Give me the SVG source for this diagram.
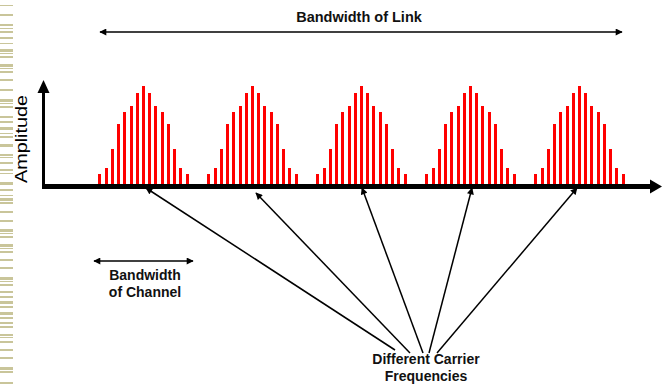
<svg xmlns="http://www.w3.org/2000/svg" width="662" height="386" viewBox="0 0 662 386">
<style>
.stripe{fill:#c9c59a}
.bar{fill:#ff0000}
.lbl{font-family:"Liberation Sans",Arial,sans-serif;font-weight:bold;font-size:14.5px;fill:#111;text-anchor:middle}
.sm{font-size:14px}
.amp{font-family:"Liberation Sans",Arial,sans-serif;font-size:16px;fill:#000;text-anchor:middle}
.thin{stroke:#000;stroke-width:1.5;fill:none}
</style>
<defs>
<marker id="ah" viewBox="0 0 10 10" refX="9" refY="5" markerWidth="8" markerHeight="7" markerUnits="userSpaceOnUse" orient="auto-start-reverse">
<path d="M0,0 L10,5 L0,10 z" fill="#000"/>
</marker>
<g id="cluster">
<rect class="bar" x="0" y="174" width="3" height="12"/>
<rect class="bar" x="7" y="168" width="3" height="18"/>
<rect class="bar" x="13" y="149" width="3" height="37"/>
<rect class="bar" x="19" y="124" width="3" height="62"/>
<rect class="bar" x="25" y="112" width="3" height="74"/>
<rect class="bar" x="32" y="106" width="3" height="80"/>
<rect class="bar" x="38" y="93" width="3" height="93"/>
<rect class="bar" x="44" y="86" width="3" height="100"/>
<rect class="bar" x="50" y="93" width="3" height="93"/>
<rect class="bar" x="56" y="106" width="3" height="80"/>
<rect class="bar" x="63" y="112" width="3" height="74"/>
<rect class="bar" x="69" y="124" width="3" height="62"/>
<rect class="bar" x="75" y="149" width="3" height="37"/>
<rect class="bar" x="81" y="168" width="3" height="18"/>
<rect class="bar" x="88" y="174" width="3" height="12"/>
</g>
</defs>
<rect width="662" height="386" fill="#fff"/>
<g id="border">
<rect class="stripe" x="0" y="5" width="13" height="1"/>
<rect class="stripe" x="0" y="14" width="13" height="2"/>
<rect class="stripe" x="0" y="24" width="13" height="2"/>
<rect class="stripe" x="0" y="28" width="13" height="1"/>
<rect class="stripe" x="0" y="31" width="13" height="2"/>
<rect class="stripe" x="0" y="37" width="13" height="2"/>
<rect class="stripe" x="0" y="43" width="13" height="1"/>
<rect class="stripe" x="0" y="49" width="13" height="3"/>
<rect class="stripe" x="0" y="53" width="13" height="1"/>
<rect class="stripe" x="0" y="56" width="13" height="2"/>
<rect class="stripe" x="0" y="64" width="13" height="3"/>
<rect class="stripe" x="0" y="68" width="13" height="1"/>
<rect class="stripe" x="0" y="71" width="13" height="2"/>
<rect class="stripe" x="0" y="79" width="13" height="2"/>
<rect class="stripe" x="0" y="89" width="13" height="2"/>
<rect class="stripe" x="0" y="99" width="13" height="3"/>
<rect class="stripe" x="0" y="103" width="13" height="1"/>
<rect class="stripe" x="0" y="106" width="13" height="2"/>
<rect class="stripe" x="0" y="116" width="13" height="2"/>
<rect class="stripe" x="0" y="121" width="13" height="2"/>
<rect class="stripe" x="0" y="127" width="13" height="3"/>
<rect class="stripe" x="0" y="133" width="13" height="1"/>
<rect class="stripe" x="0" y="136" width="13" height="2"/>
<rect class="stripe" x="0" y="144" width="13" height="3"/>
<rect class="stripe" x="0" y="154" width="13" height="2"/>
<rect class="stripe" x="0" y="157" width="13" height="1"/>
<rect class="stripe" x="0" y="162" width="13" height="2"/>
<rect class="stripe" x="0" y="169" width="13" height="2"/>
<rect class="stripe" x="0" y="173" width="13" height="1"/>
<rect class="stripe" x="0" y="182" width="13" height="3"/>
<rect class="stripe" x="0" y="189" width="13" height="2"/>
<rect class="stripe" x="0" y="195" width="13" height="1"/>
<rect class="stripe" x="0" y="198" width="13" height="3"/>
<rect class="stripe" x="0" y="202" width="13" height="2"/>
<rect class="stripe" x="0" y="211" width="13" height="2"/>
<rect class="stripe" x="0" y="220" width="13" height="2"/>
<rect class="stripe" x="0" y="229" width="13" height="3"/>
<rect class="stripe" x="0" y="233" width="13" height="1"/>
<rect class="stripe" x="0" y="236" width="13" height="2"/>
<rect class="stripe" x="0" y="244" width="13" height="3"/>
<rect class="stripe" x="0" y="248" width="13" height="1"/>
<rect class="stripe" x="0" y="251" width="13" height="2"/>
<rect class="stripe" x="0" y="259" width="13" height="2"/>
<rect class="stripe" x="0" y="267" width="13" height="2"/>
<rect class="stripe" x="0" y="277" width="13" height="3"/>
<rect class="stripe" x="0" y="281" width="13" height="1"/>
<rect class="stripe" x="0" y="284" width="13" height="2"/>
<rect class="stripe" x="0" y="291" width="13" height="2"/>
<rect class="stripe" x="0" y="296" width="13" height="2"/>
<rect class="stripe" x="0" y="301" width="13" height="3"/>
<rect class="stripe" x="0" y="306" width="13" height="2"/>
<rect class="stripe" x="0" y="312" width="13" height="3"/>
<rect class="stripe" x="0" y="317" width="13" height="2"/>
<rect class="stripe" x="0" y="322" width="13" height="2"/>
<rect class="stripe" x="0" y="326" width="13" height="2"/>
<rect class="stripe" x="0" y="334" width="13" height="2"/>
<rect class="stripe" x="0" y="337" width="13" height="1"/>
<rect class="stripe" x="0" y="341" width="13" height="2"/>
<rect class="stripe" x="0" y="349" width="13" height="2"/>
<rect class="stripe" x="0" y="357" width="13" height="2"/>
<rect class="stripe" x="0" y="367" width="13" height="3"/>
<rect class="stripe" x="0" y="371" width="13" height="2"/>
<rect class="stripe" x="0" y="382" width="13" height="2"/>
</g>
<g id="spectrum">
<use href="#cluster" x="98"/>
<use href="#cluster" x="207"/>
<use href="#cluster" x="316"/>
<use href="#cluster" x="425"/>
<use href="#cluster" x="534"/>
</g>
<g id="axes">
<rect x="42" y="90" width="3" height="99" fill="#000"/>
<path d="M37.5,93 L43.5,80 L49.5,93 z" fill="#000"/>
<rect x="42" y="184" width="612" height="5" fill="#000"/>
<path d="M650,179.5 L662,186.5 L650,193.5 z" fill="#000"/>
</g>
<g id="amplitude-label">
<text class="amp" transform="translate(27,139) rotate(-90)" textLength="88" lengthAdjust="spacingAndGlyphs">Amplitude</text>
</g>
<g id="link-label">
<text class="lbl" x="359" y="22">Bandwidth of Link</text>
</g>
<g id="channel-label">
<text class="lbl sm" x="145" y="280">Bandwidth</text>
<text class="lbl sm" x="145" y="297">of Channel</text>
</g>
<g id="carrier-label">
<text class="lbl sm" x="426" y="364">Different Carrier</text>
<text class="lbl sm" x="426" y="381">Frequencies</text>
</g>
<g id="connectors">
<line class="thin" x1="100" y1="32" x2="622" y2="32" marker-start="url(#ah)" marker-end="url(#ah)"/>
<line class="thin" x1="94" y1="261" x2="193" y2="261" marker-start="url(#ah)" marker-end="url(#ah)"/>
<line class="thin" x1="395" y1="350" x2="146" y2="188" marker-end="url(#ah)"/>
<line class="thin" x1="410" y1="353" x2="256" y2="193" marker-end="url(#ah)"/>
<line class="thin" x1="423" y1="353" x2="362" y2="188" marker-end="url(#ah)"/>
<line class="thin" x1="429" y1="353" x2="472" y2="188" marker-end="url(#ah)"/>
<line class="thin" x1="437" y1="353" x2="577" y2="188" marker-end="url(#ah)"/>
</g>
</svg>
